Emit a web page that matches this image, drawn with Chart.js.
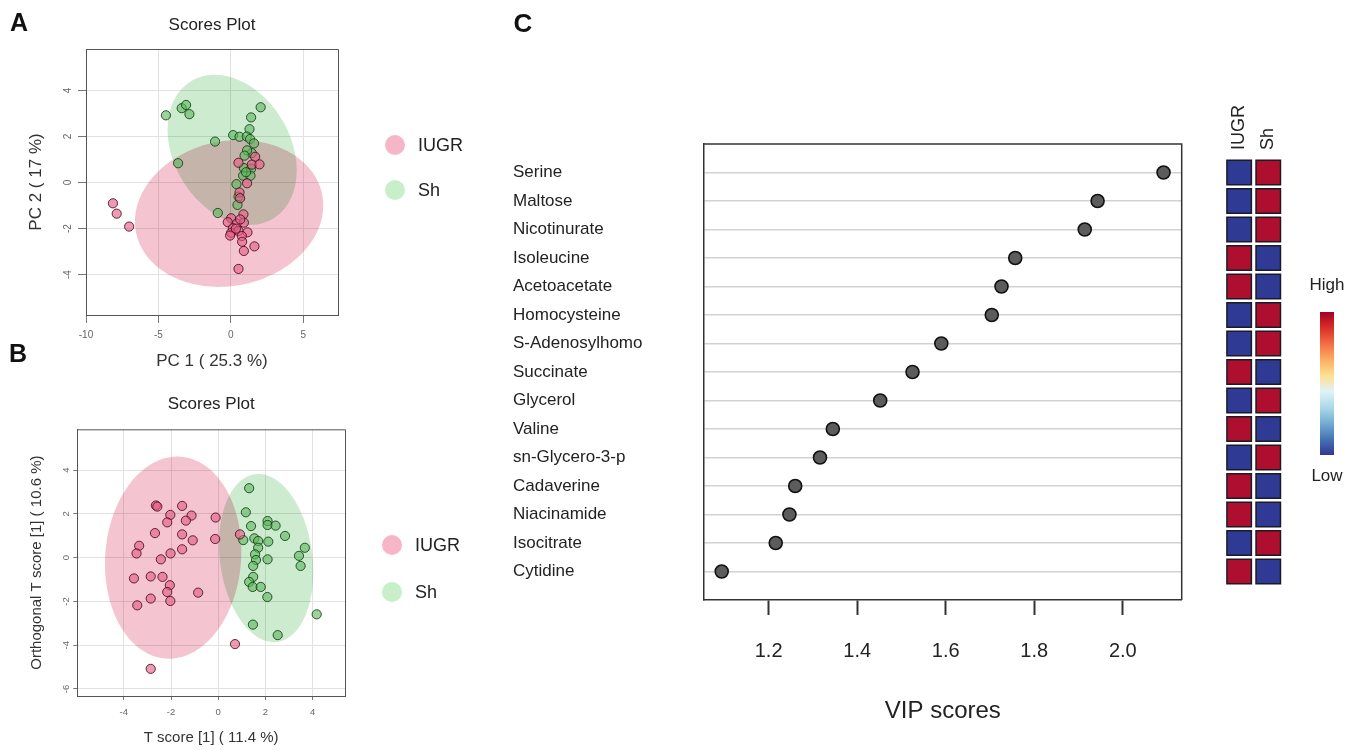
<!DOCTYPE html>
<html><head><meta charset="utf-8">
<script src="https://cdn.jsdelivr.net/npm/chart.js@4.4.1/dist/chart.umd.min.js"></script>
<style>
html,body{margin:0;padding:0;background:#fff;}
#wrap{position:relative;width:1358px;height:750px;overflow:hidden;background:#fff;}
canvas{position:absolute;}
</style></head><body>
<div id="wrap">
<canvas id="cA" width="500" height="380" style="left:0px;top:0px"></canvas>
<canvas id="cB" width="500" height="410" style="left:0px;top:340px"></canvas>
<canvas id="cC" width="700" height="750" style="left:500px;top:0px"></canvas>
<canvas id="cH" width="158" height="750" style="left:1200px;top:0px"></canvas>
</div>
<script>
// ---------- Panel A : PCA scores ----------
const groups = ['IUGR', 'Sh'];
const pcaIUGR_x = [-8.14,-7.88,-7.02,0.53,1.68,1.45,1.98,1.12,0.60,0.64,0.87,0.02,-0.21,0.41,0.90,0.14,0.02,0.53,1.15,0.76,-0.05,0.78,1.63,0.90,0.53,0.35,0.65];
const pcaIUGR_y = [-0.90,-1.35,-1.91,0.86,1.12,0.78,0.79,-0.03,-0.43,-0.68,-1.38,-1.55,-1.72,-1.78,-1.74,-1.98,-2.18,-2.10,-2.16,-2.32,-2.30,-2.57,-2.77,-2.97,-3.75,-2.00,-1.60];
const pcaSh_x = [-4.48,-3.39,-3.09,-2.86,-3.64,-1.09,-0.90,2.06,1.40,1.29,0.16,0.60,1.10,1.33,1.60,1.45,1.12,0.95,0.90,1.40,0.85,1.36,1.05,0.39,0.53,0.46];
const pcaSh_y = [2.92,3.23,3.37,2.97,0.84,1.78,-1.32,3.27,2.83,2.32,2.06,1.99,2.00,1.89,1.70,1.28,1.40,1.17,0.63,0.60,0.30,0.30,0.45,-0.07,-0.61,-0.97];
const pcaTicksX = [-10, -5, 0, 5];
const pcaTicksY = [-4, -2, 0, 2, 4];
// ellipse: [centerX, centerY, axis1X, axis1Y, axis2X, axis2Y] in data units
const pcaEllipseSh = [0.09, 1.42, -2.76, 3.01, 3.5, 1.25];
const pcaEllipseIUGR = [-0.12, -1.34, 6.5, 0.35, 0.0, 3.17];

// ---------- Panel B : OPLS-DA scores ----------
const oplsIUGR_x = [-2.64,-2.58,-1.53,-2.03,-2.16,-1.13,-1.37,-0.11,-2.68,-1.53,-1.08,-0.13,-3.35,-3.46,-1.53,-2.02,-2.43,-3.57,-2.86,-2.36,-2.05,-2.16,-0.85,-2.86,-2.03,-3.43,0.92,0.71,-2.86];
const oplsIUGR_y = [2.38,2.33,2.36,1.95,1.61,1.92,1.69,1.83,1.12,1.06,0.79,0.85,0.54,0.19,0.38,0.19,-0.08,-0.95,-0.86,-0.88,-1.26,-1.57,-1.60,-1.87,-1.98,-2.18,1.06,-3.95,-5.08];
const oplsSh_x = [1.31,1.17,1.39,2.09,2.09,2.43,2.83,1.06,1.53,1.69,2.12,1.69,1.56,1.60,1.48,2.09,3.67,3.42,3.49,1.48,1.31,1.46,1.80,2.08,4.17,1.47,2.52];
const oplsSh_y = [3.17,2.07,1.44,1.67,1.49,1.46,0.99,0.80,0.88,0.76,0.73,0.45,0.15,-0.11,-0.38,-0.08,0.45,0.08,-0.38,-0.88,-1.11,-1.34,-1.34,-1.80,-2.59,-3.06,-3.54];
const oplsTicksX = [-4, -2, 0, 2, 4];
const oplsTicksY = [-6, -4, -2, 0, 2, 4];
const oplsEllipseIUGR = [-1.91, 0.0, 0.32, 4.61, 2.87, -0.23];
const oplsEllipseSh = [2.03, -0.02, -0.47, 3.83, 1.94, 0.28];

// ---------- Panel C : VIP scores ----------
const metabolites = ['Serine','Maltose','Nicotinurate','Isoleucine','Acetoacetate','Homocysteine','S-Adenosylhomo','Succinate','Glycerol','Valine','sn-Glycero-3-p','Cadaverine','Niacinamide','Isocitrate','Cytidine'];
const vipScores = [2.092,1.943,1.914,1.757,1.726,1.704,1.590,1.525,1.452,1.345,1.316,1.260,1.247,1.216,1.094];
const vipTicks = [1.2, 1.4, 1.6, 1.8, 2.0];
// heat map: 1 = High, 0 = Low
const heatIUGR = [0,0,0,1,1,0,0,1,0,1,0,1,1,0,1];
const heatSh   = [1,1,1,0,0,1,1,0,1,0,1,0,0,1,0];

const FONT = "'Liberation Sans', Arial, Helvetica, sans-serif";
Chart.defaults.font.family = FONT;
Chart.defaults.color = '#222';

const PINK_PT = 'rgba(228,92,132,0.62)', PINK_BD = 'rgba(70,12,30,0.85)';
const GREEN_PT = 'rgba(96,184,96,0.62)', GREEN_BD = 'rgba(18,60,18,0.85)';
const PINK_ELL = '#F4C4D0', GREEN_ELL = '#CDEBCF';
const PINK_LEG = '#F6B6C8', GREEN_LEG = '#C8EECA';
const HIGH = '#AE0F2E', LOW = '#2E3A94';

function zip(xs, ys) { return xs.map((v, i) => ({x: v, y: ys[i]})); }

function scorePlugin(cfg) {
  return {
    id: 'scoreDeco',
    beforeDatasetsDraw(chart) {
      const {ctx, chartArea: a, scales: {x, y}} = chart;
      ctx.save();
      ctx.beginPath(); ctx.rect(a.left, a.top, a.right - a.left, a.bottom - a.top); ctx.clip();
      ctx.globalCompositeOperation = 'multiply';
      cfg.ellipses.forEach(([p, color]) => {
        ctx.beginPath();
        const n = 160;
        for (let k = 0; k <= n; k++) {
          const t = k / n * 2 * Math.PI;
          const vx = p[0] + p[2] * Math.cos(t) + p[4] * Math.sin(t);
          const vy = p[1] + p[3] * Math.cos(t) + p[5] * Math.sin(t);
          const px = x.getPixelForValue(vx), py = y.getPixelForValue(vy);
          if (k) ctx.lineTo(px, py); else ctx.moveTo(px, py);
        }
        ctx.closePath(); ctx.fillStyle = color; ctx.fill();
      });
      ctx.restore();
    },
    afterDraw(chart) {
      const {ctx, chartArea: a} = chart;
      ctx.save();
      // frame top & right
      ctx.strokeStyle = '#555'; ctx.lineWidth = 1;
      ctx.beginPath(); ctx.moveTo(a.left, a.top + 0.5); ctx.lineTo(a.right + 0.5, a.top + 0.5); ctx.lineTo(a.right + 0.5, a.bottom); ctx.stroke();
      // panel letter
      ctx.fillStyle = '#111'; ctx.font = 'bold 25px ' + FONT; ctx.textAlign = 'center'; ctx.textBaseline = 'middle';
      ctx.fillText(cfg.letter, cfg.letterX, cfg.letterY);
      // title
      ctx.fillStyle = '#222'; ctx.font = '17px ' + FONT;
      ctx.fillText('Scores Plot', (a.left + a.right) / 2, cfg.titleY);
      // legend
      ctx.textAlign = 'left'; ctx.font = '18px ' + FONT;
      cfg.legend.forEach(([label, color, cy]) => {
        ctx.beginPath(); ctx.arc(cfg.legX, cy, 10, 0, 2 * Math.PI); ctx.fillStyle = color; ctx.fill();
        ctx.fillStyle = '#222'; ctx.fillText(label, cfg.legX + 23, cy + 1);
      });
      ctx.restore();
    }
  };
}

function scoreOptions(o) {
  return {
    responsive: false, animation: false, devicePixelRatio: 1,
    layout: {padding: o.padding},
    plugins: {legend: {display: false}, tooltip: {enabled: false}},
    scales: {
      x: {
        type: 'linear', min: o.xmin, max: o.xmax,
        afterBuildTicks: s => { s.ticks = o.xticks.map(v => ({value: v})); },
        afterFit: s => { s.height = o.xh; },
        ticks: {font: {size: o.tickSize}, color: '#666', padding: o.xtp, callback: v => String(v)},
        grid: {color: '#e2e2e2', lineWidth: 1, tickLength: o.xtl, tickColor: '#777', drawTicks: true},
        border: {display: true, color: '#555', width: 1},
        title: {display: true, text: o.xtitle, font: {size: o.titleSize}, color: '#333', padding: {top: 0, bottom: o.xtitlePad}}
      },
      y: {
        type: 'linear', min: o.ymin, max: o.ymax,
        afterBuildTicks: s => { s.ticks = o.yticks.map(v => ({value: v})); },
        afterFit: s => { s.width = o.yw; },
        ticks: {font: {size: o.tickSize}, color: '#666', padding: o.ytp, minRotation: 90, maxRotation: 90, crossAlign: 'center', callback: v => String(v)},
        grid: {color: '#e2e2e2', lineWidth: 1, tickLength: o.ytl, tickColor: '#777', drawTicks: true},
        border: {display: true, color: '#555', width: 1},
        title: {display: true, text: o.ytitle, font: {size: o.titleSize}, color: '#333', padding: {top: o.ytitlePad, bottom: 0}}
      }
    }
  };
}

function scoreDatasets(ix, iy, sx, sy) {
  return [
    {label: groups[0], data: zip(ix, iy), backgroundColor: PINK_PT, borderColor: PINK_BD, borderWidth: 1, pointRadius: 4.6},
    {label: groups[1], data: zip(sx, sy), backgroundColor: GREEN_PT, borderColor: GREEN_BD, borderWidth: 1, pointRadius: 4.6}
  ];
}

// Panel A
new Chart(document.getElementById('cA'), {
  type: 'scatter',
  data: {datasets: scoreDatasets(pcaIUGR_x, pcaIUGR_y, pcaSh_x, pcaSh_y)},
  options: scoreOptions({
    padding: {left: 0, top: 49, right: 162, bottom: 0},
    xmin: -10, xmax: 7.4, ymin: -5.75, ymax: 5.8, xticks: pcaTicksX, yticks: pcaTicksY,
    xh: 65, yw: 86, tickSize: 10, xtp: 6, ytp: 5, xtl: 8, ytl: 8,
    xtitle: 'PC 1 ( 25.3 %)', ytitle: 'PC 2 ( 17 %)', titleSize: 17, xtitlePad: 8, ytitlePad: 26
  }),
  plugins: [scorePlugin({
    ellipses: [[pcaEllipseSh, GREEN_ELL], [pcaEllipseIUGR, PINK_ELL]],
    letter: 'A', letterX: 19, letterY: 24, titleY: 25,
    legX: 395, legend: [[groups[0], PINK_LEG, 145], [groups[1], GREEN_LEG, 190]]
  })]
});

// Panel B
new Chart(document.getElementById('cB'), {
  type: 'scatter',
  data: {datasets: scoreDatasets(oplsIUGR_x, oplsIUGR_y, oplsSh_x, oplsSh_y)},
  options: scoreOptions({
    padding: {left: 0, top: 89.3, right: 155, bottom: 0},
    xmin: -5.97, xmax: 5.37, ymin: -6.32, ymax: 5.86, xticks: oplsTicksX, yticks: oplsTicksY,
    xh: 54, yw: 77.3, tickSize: 9.5, xtp: 7, ytp: 3, xtl: 4, ytl: 4,
    xtitle: 'T score [1] ( 11.4 %)', ytitle: 'Orthogonal T score [1] ( 10.6 %)', titleSize: 15, xtitlePad: 3, ytitlePad: 28
  }),
  plugins: [scorePlugin({
    ellipses: [[oplsEllipseIUGR, PINK_ELL], [oplsEllipseSh, GREEN_ELL]],
    letter: 'B', letterX: 18, letterY: 15, titleY: 64,
    legX: 392, legend: [[groups[0], PINK_LEG, 205], [groups[1], GREEN_LEG, 252]]
  })]
});

// Panel C
const nRows = metabolites.length;
new Chart(document.getElementById('cC'), {
  type: 'scatter',
  data: {datasets: [{label: 'VIP scores', data: vipScores.map((v, i) => ({x: v, y: nRows - i})),
    pointRadius: 6.5, backgroundColor: '#5c5c5c', borderColor: '#111', borderWidth: 1.6}]},
  options: {
    responsive: false, animation: false, devicePixelRatio: 1,
    layout: {padding: {left: 13, top: 144, right: 18.3, bottom: 0}},
    plugins: {legend: {display: false}, tooltip: {enabled: false}},
    scales: {
      x: {
        type: 'linear', min: 1.054, max: 2.133,
        afterBuildTicks: s => { s.ticks = vipTicks.map(v => ({value: v})); },
        afterFit: s => { s.height = 150; },
        ticks: {font: {size: 20}, color: '#222', padding: 24.7, callback: v => Number(v).toFixed(1)},
        grid: {drawOnChartArea: false, drawTicks: true, tickLength: 15, tickColor: '#333', tickWidth: 2},
        border: {display: true, color: '#333', width: 1.5},
        title: {display: true, text: 'VIP scores', font: {size: 24}, color: '#222', padding: {top: 0, bottom: 24}}
      },
      y: {
        type: 'linear', min: 0, max: nRows + 1,
        afterBuildTicks: s => { s.ticks = metabolites.map((m, i) => ({value: nRows - i})); },
        afterFit: s => { s.width = 191; },
        ticks: {crossAlign: 'far', font: {size: 17}, color: '#222', padding: 0,
          callback: v => metabolites[nRows - v] || ''},
        grid: {color: '#d2d2d2', lineWidth: 1.5, drawTicks: false},
        border: {display: true, color: '#333', width: 1.5}
      }
    }
  },
  plugins: [{
    id: 'vipFrame',
    afterDraw(chart) {
      const {ctx, chartArea: a} = chart;
      ctx.save();
      ctx.strokeStyle = '#333'; ctx.lineWidth = 1.5;
      ctx.beginPath(); ctx.moveTo(a.left, a.top); ctx.lineTo(a.right, a.top); ctx.lineTo(a.right, a.bottom); ctx.stroke();
      ctx.fillStyle = '#111'; ctx.font = 'bold 26px ' + FONT; ctx.textAlign = 'center'; ctx.textBaseline = 'middle';
      ctx.fillText('C', 23, 25);
      ctx.restore();
    }
  }]
});

// Heat map next to panel C
const heatCols = [heatIUGR, heatSh];
new Chart(document.getElementById('cH'), {
  type: 'scatter',
  data: {datasets: groups.map((g, gi) => ({
    label: g,
    data: heatCols[gi].map((lv, i) => ({x: gi, y: nRows - i})),
    backgroundColor: heatCols[gi].map(lv => lv ? HIGH : LOW),
    pointStyle: 'rect', pointRadius: 17.3, borderColor: '#1b1b26', borderWidth: 1.5
  }))},
  options: {
    responsive: false, animation: false, devicePixelRatio: 1,
    layout: {padding: {left: 24.6, right: 75.2, top: 144, bottom: 150}},
    plugins: {legend: {display: false}, tooltip: {enabled: false}},
    scales: {
      x: {type: 'linear', min: -0.5, max: groups.length - 0.5, display: false},
      y: {type: 'linear', min: 0, max: nRows + 1, display: false}
    }
  },
  plugins: [{
    id: 'heatDeco',
    afterDraw(chart) {
      const {ctx, scales: {x}} = chart;
      ctx.save();
      ctx.fillStyle = '#222'; ctx.font = '18px ' + FONT; ctx.textAlign = 'left'; ctx.textBaseline = 'middle';
      groups.forEach((g, gi) => {
        ctx.save();
        ctx.translate(x.getPixelForValue(gi), 150);
        ctx.rotate(-Math.PI / 2);
        ctx.fillText(g, 0, 0);
        ctx.restore();
      });
      // colour key
      const gx = 120, gy0 = 312, gy1 = 455, gw = 14;
      const grad = ctx.createLinearGradient(0, gy0, 0, gy1);
      const stops = ['#A50026','#D73027','#F46D43','#FDAE61','#FEE090','#E0F3F8','#ABD9E9','#74ADD1','#4575B4','#313695'];
      stops.forEach((c, i) => grad.addColorStop(i / (stops.length - 1), c));
      ctx.fillStyle = grad; ctx.fillRect(gx, gy0, gw, gy1 - gy0);
      ctx.fillStyle = '#222'; ctx.font = '17px ' + FONT; ctx.textAlign = 'center';
      ctx.fillText('High', gx + gw / 2, 285);
      ctx.fillText('Low', gx + gw / 2, 476);
      ctx.restore();
    }
  }]
});
</script>
</body></html>
